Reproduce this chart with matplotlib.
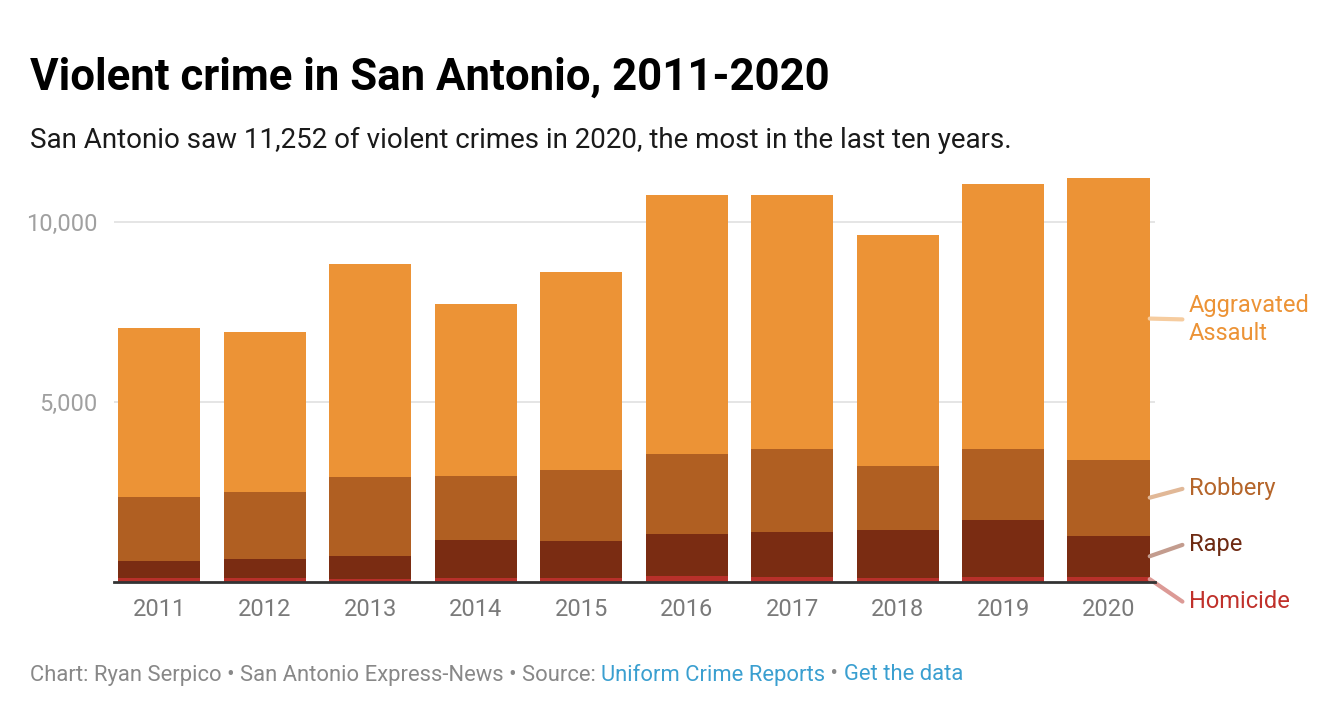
import numpy as np
import matplotlib.pyplot as plt

plt.rcParams['font.family'] = ['Roboto', 'DejaVu Sans']

years = ['2011', '2012', '2013', '2014', '2015', '2016', '2017', '2018', '2019', '2020']
homicide = [89, 98, 83, 103, 94, 149, 125, 103, 120, 130]
rape = [489, 536, 635, 1062, 1043, 1183, 1263, 1341, 1598, 1146]
robbery = [1782, 1866, 2201, 1782, 1977, 2229, 2313, 1782, 1983, 2118]
assault = [4692, 4440, 5921, 4776, 5502, 7206, 7066, 6424, 7373, 7858]

series = [('Homicide', homicide, '#b8302a'),
          ('Rape', rape, '#7a2c12'),
          ('Robbery', robbery, '#b05f22'),
          ('Aggravated Assault', assault, '#ec9336')]

fig = plt.figure(figsize=(13.44, 7.05), dpi=100)
ax = fig.add_axes([114/1344, 123.5/705, 1041/1344, 412.9/705])

x = np.arange(len(years))
bottom = np.zeros(len(years))
for name, vals, col in series:
    ax.bar(x, vals, width=0.78, bottom=bottom, color=col, zorder=2)
    bottom = bottom + np.array(vals)

ax.set_xlim(-0.43, 9.44)
ax.set_ylim(0, 11500)
ax.set_yticks([5000, 10000])
ax.set_yticklabels(['5,000', '10,000'], color='#a0a0a0', fontsize=17)
ax.set_xticks(x)
ax.set_xticklabels(years, color='#7a7a7a', fontsize=17)
ax.tick_params(length=0)
ax.tick_params(axis='y', pad=12)
ax.tick_params(axis='x', pad=12)
ax.grid(axis='y', color='#e3e3e3', linewidth=1.3, zorder=0)
for s in ['top', 'right', 'left']:
    ax.spines[s].set_visible(False)
ax.spines['bottom'].set_color('#333333')
ax.spines['bottom'].set_linewidth(2)
ax.spines['bottom'].set_zorder(3)

# labels at the right, with connector lines
last = np.cumsum([s[1][-1] for s in series])
mids = [last[0] / 2, (last[0] + last[1]) / 2, (last[1] + last[2]) / 2, (last[2] + last[3]) / 2]
label_y = [-560, 1020, 2580, 7300]
label_col = ['#c0312b', '#6e2a12', '#b5652a', '#ec9336']
line_col = ['#dc9a96', '#c39c8e', '#e1b897', '#f6cc9f']
texts = ['Homicide', 'Rape', 'Robbery', 'Aggravated\nAssault']
for i in range(4):
    ax.annotate('', xy=(9.39, mids[i]), xytext=(9.7, label_y[i]),
                arrowprops=dict(arrowstyle='-', color=line_col[i], lw=3,
                                shrinkA=0, shrinkB=0),
                annotation_clip=False)
    ax.text(9.76, label_y[i], texts[i], color=label_col[i], fontsize=17,
            va='center', ha='left', linespacing=1.3, clip_on=False)

fig.text(30/1344, 1 - 78/705, 'Violent crime in San Antonio, 2011-2020',
         fontsize=31.5, fontweight='bold', color='#000000', va='center')
fig.text(30/1344, 1 - 140/705,
         'San Antonio saw 11,252 of violent crimes in 2020, the most in the last ten years.',
         fontsize=20, color='#1a1a1a', va='center')

# footer with coloured pieces
pieces = [('Chart: Ryan Serpico \u2022 San Antonio Express-News \u2022 Source: ', '#888888'),
          ('Uniform Crime Reports', '#3a9fd0'),
          (' \u2022 ', '#888888'),
          ('Get the data', '#3a9fd0')]
fig.canvas.draw()
r = fig.canvas.get_renderer()
xpos = 30
for txt, col in pieces:
    t = fig.text(xpos/1344, 1 - 675/705, txt, fontsize=15.8, color=col, va='center')
    bb = t.get_window_extent(renderer=r)
    xpos = xpos + bb.width

fig.savefig('out.png', dpi=100)
